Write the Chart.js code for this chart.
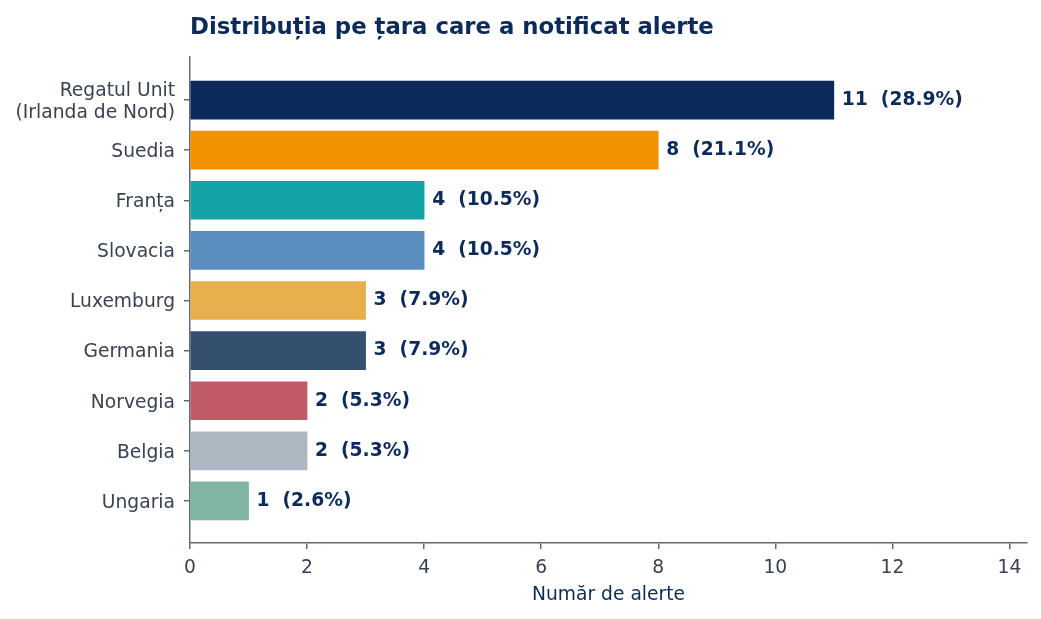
<!DOCTYPE html>
<html>
<head>
<meta charset="utf-8">
<script src="https://cdn.jsdelivr.net/npm/chart.js@4"></script>
<style>
  html, body { margin: 0; padding: 0; background: #fff; }
  #wrap { width: 1041px; height: 619px; }
</style>
</head>
<body>
<div id="wrap"><canvas id="grafic" width="1041" height="619"></canvas></div>
<script>
// date
const tari = [["Regatul Unit", "(Irlanda de Nord)"], "Suedia", "Franța", "Slovacia",
  "Luxemburg", "Germania", "Norvegia", "Belgia", "Ungaria"];
const alerte = [11, 8, 4, 4, 3, 3, 2, 2, 1];
const culori = ["#0c2b5a", "#f29200", "#13a5a5", "#5b8ebe", "#e8b04c",
  "#34506e", "#c25b68", "#aeb8c3", "#80b4a3"];
const ticksX = [0, 2, 4, 6, 8, 10, 12, 14];

const titlu = "Distribuția pe țara care a notificat alerte";
const titluX = "Număr de alerte";

const FONT = "'DejaVu Sans', sans-serif";
const FS = 18.7;
const NAVY = "#0c2b5a";
const AX = "#5f6b7a";
const TXT = "#3a4150";

const total = alerte.reduce((a, b) => a + b, 0);

// titlu + etichete valori
const extra = {
  id: "extra",
  afterDatasetsDraw(chart) {
    const ctx = chart.ctx;
    const meta = chart.getDatasetMeta(0);
    ctx.save();
    ctx.fillStyle = NAVY;
    ctx.font = "bold " + FS + "px " + FONT;
    ctx.textBaseline = "middle";
    ctx.textAlign = "left";
    meta.data.forEach((bar, i) => {
      const v = alerte[i];
      const pct = (v / total * 100).toFixed(1);
      ctx.fillText(v + "  (" + pct + "%)", bar.x + 8, bar.y);
    });
    ctx.font = "bold 22.8px " + FONT;
    ctx.fillText(titlu, chart.chartArea.left, 28);
    ctx.restore();
  }
};

new Chart(document.getElementById("grafic"), {
  type: "bar",
  data: {
    datasets: [{
      data: alerte.map((v, i) => ({ x: v, y: i })),
      backgroundColor: culori,
      barThickness: 38,
      borderWidth: 0
    }]
  },
  options: {
    indexAxis: "y",
    responsive: false,
    animation: false,
    devicePixelRatio: 1,
    layout: { padding: { top: 57, right: 14, left: 0, bottom: 0 } },
    plugins: { legend: { display: false }, tooltip: { enabled: false }, title: { display: false } },
    scales: {
      y: {
        type: "linear",
        reverse: true,
        offset: false,
        min: -0.86,
        max: 8.84,
        afterBuildTicks(s) { s.ticks = tari.map((_, i) => ({ value: i })); },
        afterFit(s) { s.width = 190; },
        ticks: {
          callback: (v) => tari[v],
          color: TXT,
          font: { family: FONT, size: FS, lineHeight: 1.18 },
          padding: 9,
          labelOffset: 2
        },
        grid: { offset: false, drawOnChartArea: false, drawTicks: true, tickLength: 6, color: AX, lineWidth: 1.5 },
        border: { display: true, color: AX, width: 1.5 }
      },
      x: {
        type: "linear",
        min: 0,
        max: 14.3,
        afterBuildTicks(s) { s.ticks = ticksX.map(v => ({ value: v })); },
        afterFit(s) { s.height = 76; },
        ticks: {
          color: TXT,
          font: { family: FONT, size: FS },
          padding: 8
        },
        title: {
          display: true,
          text: titluX,
          color: NAVY,
          font: { family: FONT, size: FS },
          padding: { top: 2, bottom: 13 }
        },
        grid: { drawOnChartArea: false, drawTicks: true, tickLength: 6, color: AX, lineWidth: 1.5 },
        border: { display: true, color: AX, width: 1.5 }
      }
    }
  },
  plugins: [extra]
});
</script>
</body>
</html>
